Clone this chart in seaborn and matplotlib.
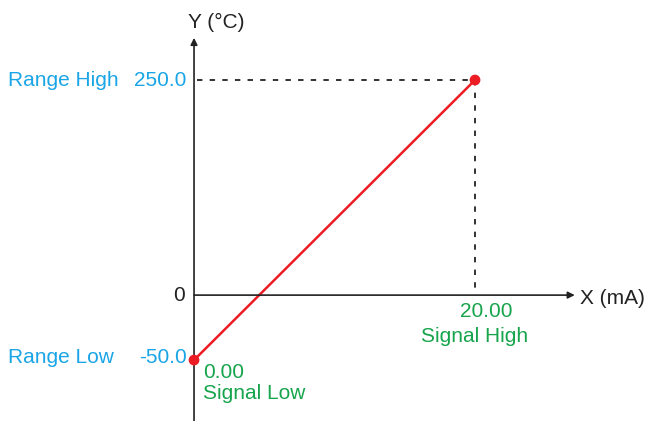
import numpy as np
import pandas as pd
import matplotlib
matplotlib.use("Agg")
import matplotlib.pyplot as plt
import seaborn as sns

# data: signal (mA) -> temperature (°C)
signal_ma = [0.00, 20.00]
temp_c = [-50.0, 250.0]
range_labels = ["Range Low", "Range High"]
signal_labels = ["Signal Low", "Signal High"]

CYAN = "#1aa5e6"
GREEN = "#16a44c"
RED = "#ec1c24"

sns.set_theme(style="white")
plt.rcParams["font.family"] = ["Liberation Sans", "DejaVu Sans"]

df = pd.DataFrame({"signal": signal_ma, "temp": temp_c})

fig = plt.figure(figsize=(6.46, 4.21), dpi=100)
ax = fig.add_axes([0, 0, 1, 1])

# schematic y-scale: the negative part is drawn stretched
k_neg = 1.51
def fwd(y):
    y = np.asarray(y, dtype=float)
    return np.where(y < 0, y * k_neg, y)
def inv(y):
    y = np.asarray(y, dtype=float)
    return np.where(y < 0, y / k_neg, y)
ax.set_yscale("function", functions=(fwd, inv))

ax.set_xlim(-13.81, 32.17)
ax.set_ylim(-96.9, 343)
ax.axis("off")

# axes with arrows
ax.annotate("", xy=(27.1, 0), xytext=(0, 0),
            arrowprops=dict(arrowstyle="-|>", color="#222222", lw=1.2,
                            mutation_scale=10, shrinkA=0, shrinkB=0))
ax.annotate("", xy=(0, 299), xytext=(0, -97),
            arrowprops=dict(arrowstyle="-|>", color="#222222", lw=1.2,
                            mutation_scale=10, shrinkA=0, shrinkB=0))

# guide lines to the high point
ax.plot([0.2, signal_ma[1]], [temp_c[1], temp_c[1]], color="#222222",
        lw=1.3, dashes=(3, 4))
ax.plot([signal_ma[1], signal_ma[1]], [temp_c[1], 0], color="#222222",
        lw=1.3, dashes=(3, 4))

sns.lineplot(data=df, x="signal", y="temp", color=RED, lw=1.8, ax=ax)
sns.scatterplot(data=df, x="signal", y="temp", color=RED, s=60,
                edgecolor="none", ax=ax, zorder=5)

fs = 15
ax.text(1.57, 317, "Y (°C)", ha="center", va="center", fontsize=fs, color="#222222")
ax.text(27.47, -2.3, "X (mA)", ha="left", va="center", fontsize=fs, color="#222222")

# y labels
ax.text(-0.57, temp_c[1], f"{temp_c[1]:.1f}", ha="right", va="center", fontsize=fs, color=CYAN)
ax.text(-13.24, temp_c[1], range_labels[1], ha="left", va="center", fontsize=fs, color=CYAN)
ax.text(-0.64, 0, "0", ha="right", va="center", fontsize=fs, color="#222222")
ax.text(-0.5, temp_c[0] + 2, f"{temp_c[0]:.1f}", ha="right", va="center", fontsize=fs, color=CYAN)
ax.text(-13.24, temp_c[0] + 2, range_labels[0], ha="left", va="center", fontsize=fs, color=CYAN)

# x labels
ax.text(0.64, -59.2, f"{signal_ma[0]:.2f}", ha="left", va="center", fontsize=fs, color=GREEN)
ax.text(0.64, -75.4, signal_labels[0], ha="left", va="center", fontsize=fs, color=GREEN)
ax.text(20.8, -13, f"{signal_ma[1]:.2f}", ha="center", va="center", fontsize=fs, color=GREEN)
ax.text(20.0, -32, signal_labels[1], ha="center", va="center", fontsize=fs, color=GREEN)

ax.set_xlabel("")
ax.set_ylabel("")
fig.savefig("out.png", dpi=100)
